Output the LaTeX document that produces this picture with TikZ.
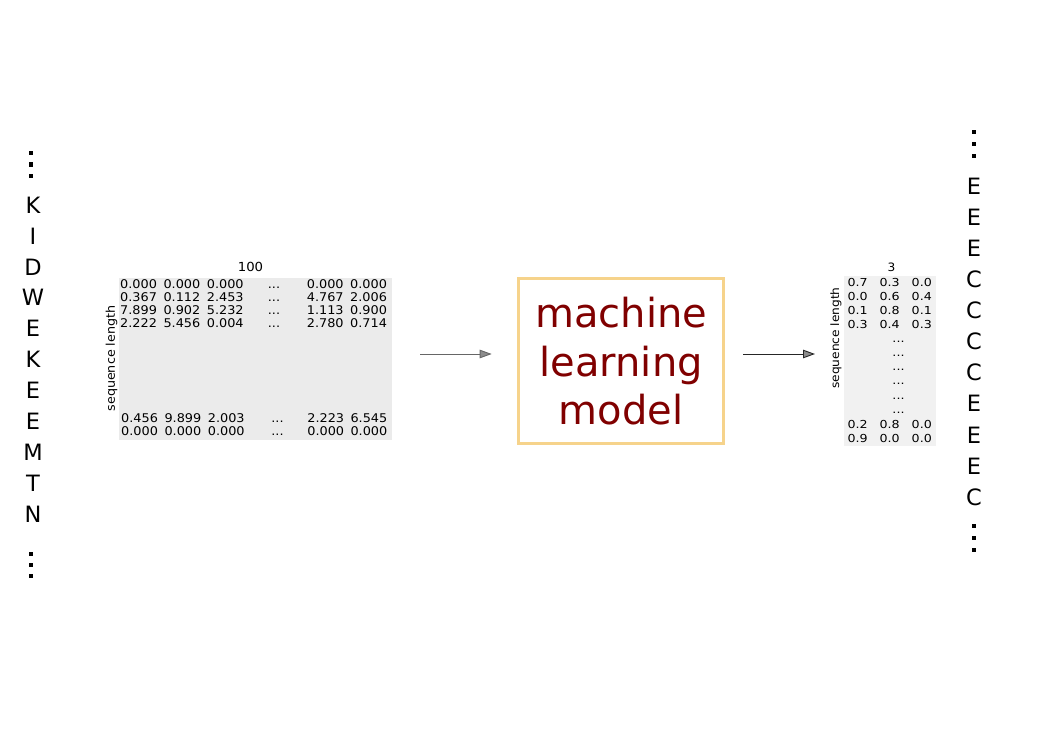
\documentclass[tikz,border=0pt]{standalone}
\usepackage{fontspec}
\setmainfont{DejaVu Sans}
\newfontfamily\numfontA[FakeStretch=1.07]{DejaVu Sans}
\newfontfamily\numfontB[FakeStretch=1.15]{DejaVu Sans}
\newfontfamily\labfont[FakeStretch=1.06]{DejaVu Sans}
\usetikzlibrary{arrows.meta}
\definecolor{lgrayA}{HTML}{EBEBEB}
\definecolor{lgrayB}{HTML}{F1F1F1}
\definecolor{boxorange}{HTML}{F6D38B}
\definecolor{maroon}{HTML}{800000}
\begin{document}
\begin{tikzpicture}[x=1pt,y=-1pt,
  letter/.style={inner sep=0pt,font=\fontsize{22.5}{26}\selectfont},
  numA/.style={inner sep=0pt,anchor=base west,font=\numfontA\fontsize{12}{13}\selectfont},
  dotsA/.style={inner sep=0pt,anchor=base,font=\numfontA\fontsize{12}{13}\selectfont},
  numB/.style={inner sep=0pt,anchor=base west,font=\numfontB\fontsize{11}{12}\selectfont},
  dotsB/.style={inner sep=0pt,anchor=base,font=\numfontB\fontsize{11}{12}\selectfont},
  seqlab/.style={inner sep=0pt,rotate=90,font=\labfont\fontsize{12}{14}\selectfont},
  dimlab/.style={inner sep=0pt,font=\labfont\fontsize{12.5}{14}\selectfont},
  dotsq/.style={fill=black},
  arr/.style={line width=0.9pt,-{Triangle[length=12pt,width=8.5pt,fill=black!45]}},
  mlbox/.style={draw=boxorange,line width=2.7pt,inner sep=0pt,
    minimum width=205pt,minimum height=165pt,align=center,
    text=maroon,font=\fontsize{40}{48.5}\selectfont}
]
\useasboundingbox (0,0) rectangle (1052,744);

% left input sequence
\foreach \t [count=\i from 0] in {K,I,D,W,E,K,E,E,M,T,N}
  \node[letter] (in\i) at (33,{205+30.9*\i}) {\t};
\foreach \y in {153,164.5,176,554,565,576}
  \fill[dotsq] (28.8,\y-2.3) rectangle ++(4.6,4.6);

% right output sequence
\foreach \t [count=\i from 0] in {E,E,E,C,C,C,C,E,E,E,C}
  \node[letter] (out\i) at (974,{186+31.1*\i}) {\t};
\foreach \y in {132,144,156,526,538,550}
  \fill[dotsq] (971.7,\y-2.3) rectangle ++(4.6,4.6);

% left matrix
\node[fill=lgrayA,inner sep=0pt,minimum width=273pt,minimum height=162.3pt,anchor=north west] (lm) at (119,277.7) {};
\node[dimlab] (lmdim) at (250.5,267) {100};
\node[seqlab] (lmseq) at (111.5,358.5) {sequence length};
\foreach \a/\b/\c/\d/\e [count=\r from 0] in {
  0.000/0.000/0.000/0.000/0.000,
  0.367/0.112/2.453/4.767/2.006,
  7.899/0.902/5.232/1.113/0.900,
  2.222/5.456/0.004/2.780/0.714}{
  \pgfmathsetmacro{\yy}{288.4+13.1*\r}
  \node[numA] at (120,\yy) {\a};
  \node[numA] at (163.3,\yy) {\b};
  \node[numA] at (206.7,\yy) {\c};
  \node[dotsA] at (274,\yy) {...};
  \node[numA] at (306.7,\yy) {\d};
  \node[numA] at (350,\yy) {\e};
}
\foreach \a/\b/\c/\d/\e [count=\r from 0] in {
  0.456/9.899/2.003/2.223/6.545,
  0.000/0.000/0.000/0.000/0.000}{
  \pgfmathsetmacro{\yy}{422.3+13.1*\r}
  \node[numA] at (121,\yy) {\a};
  \node[numA] at (164.3,\yy) {\b};
  \node[numA] at (207.7,\yy) {\c};
  \node[dotsA] at (277.5,\yy) {...};
  \node[numA] at (307.2,\yy) {\d};
  \node[numA] at (350.3,\yy) {\e};
}

% model box
\node[mlbox] (model) at (621.2,361.3) {machine\\learning\\model};

% right matrix
\node[fill=lgrayB,inner sep=0pt,minimum width=92pt,minimum height=170.5pt,anchor=north west] (rm) at (844,275.5) {};
\node[dimlab,font=\labfont\fontsize{11.5}{13}\selectfont] (rmdim) at (891.5,267.5) {3};
\node[seqlab,font=\labfont\fontsize{11.5}{13}\selectfont] (rmseq) at (836,338) {sequence length};
\foreach \a/\b/\c [count=\r from 0] in {0.7/0.3/0.0,0.0/0.6/0.4,0.1/0.8/0.1,0.3/0.4/0.3}{
  \pgfmathsetmacro{\yy}{286.7+13.9*\r}
  \node[numB] at (847.3,\yy) {\a};
  \node[numB] at (879.3,\yy) {\b};
  \node[numB] at (911.5,\yy) {\c};
}
\foreach \r in {0,...,5}{
  \pgfmathsetmacro{\yy}{342.3+14.2*\r}
  \node[dotsB] at (898.5,\yy) {...};
}
\foreach \a/\b/\c [count=\r from 0] in {0.2/0.8/0.0,0.9/0.0/0.0}{
  \pgfmathsetmacro{\yy}{428.8+13.4*\r}
  \node[numB] at (847.3,\yy) {\a};
  \node[numB] at (879.3,\yy) {\b};
  \node[numB] at (911.5,\yy) {\c};
}

% connectors
\coordinate (a1s) at (420,354);
\coordinate (a1e) at (491.7,354);
\coordinate (a2s) at (743,354);
\coordinate (a2e) at (815,354);
\draw[arr,draw=black!60] (a1s) -- (a1e);
\draw[arr,draw=black!85] (a2s) -- (a2e);
\end{tikzpicture}
\end{document}
